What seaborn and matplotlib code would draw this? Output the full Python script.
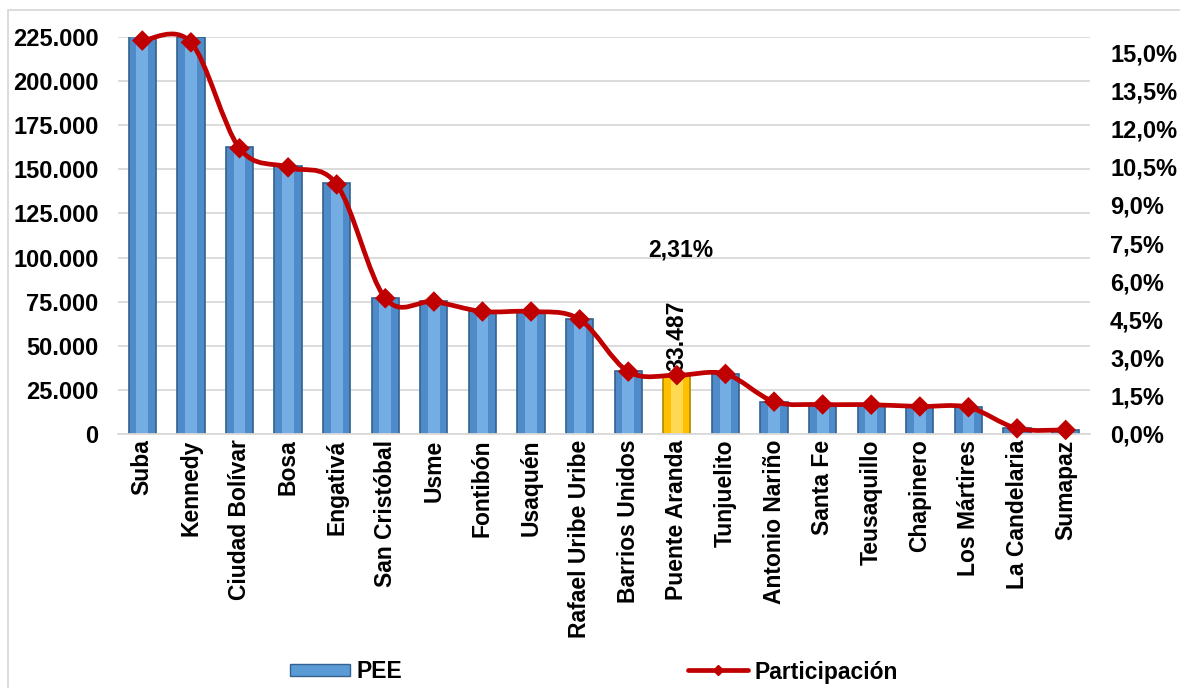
import numpy as np
import pandas as pd
import seaborn as sns
import matplotlib.pyplot as plt
from matplotlib.path import Path
from matplotlib.patches import PathPatch, Rectangle, Patch
from matplotlib.lines import Line2D
from matplotlib.ticker import FuncFormatter, MultipleLocator

# datos por localidad
localidades = ['Suba', 'Kennedy', 'Ciudad Bolívar', 'Bosa', 'Engativá', 'San Cristóbal',
               'Usme', 'Fontibón', 'Usaquén', 'Rafael Uribe Uribe', 'Barrios Unidos',
               'Puente Aranda', 'Tunjuelito', 'Antonio Nariño', 'Santa Fe', 'Teusaquillo',
               'Chapinero', 'Los Mártires', 'La Candelaria', 'Sumapaz']
pee = [225500, 225200, 162600, 151800, 142100, 77300, 75400, 69700, 69700, 65200,
       35500, 33487, 34200, 18400, 16800, 16700, 15700, 15200, 3200, 2300]
participacion = [15.45, 15.38, 11.22, 10.47, 9.80, 5.33, 5.20, 4.81, 4.81, 4.50,
                 2.45, 2.31, 2.36, 1.27, 1.16, 1.15, 1.08, 1.05, 0.22, 0.16]
destacada = 'Puente Aranda'

sns.set_theme(style='white')
plt.rcParams['font.family'] = ['Liberation Sans', 'DejaVu Sans']
plt.rcParams['font.weight'] = 'bold'
plt.rcParams['text.color'] = 'black'
plt.rcParams['xtick.color'] = 'black'
plt.rcParams['ytick.color'] = 'black'

fig = plt.figure(figsize=(11.8, 6.88), dpi=100)
ax = fig.add_axes([0.1, 0.3692, 0.8237, 0.577])

df = pd.DataFrame({'localidad': localidades, 'pee': pee})
base = ['#FFC000' if l == destacada else '#4F8BC9' for l in localidades]
brillo = ['#FFE066' if l == destacada else '#7DB6EA' for l in localidades]
bordes = ['#B38600' if l == destacada else '#35618F' for l in localidades]

sns.barplot(data=df, x='localidad', y='pee', hue='localidad', palette=base,
            legend=False, width=0.56, saturation=1, ax=ax, zorder=2)
for p, c in zip(ax.patches, bordes):
    p.set_edgecolor(c)
    p.set_linewidth(1.2)
n0 = len(ax.patches)
sns.barplot(data=df, x='localidad', y='pee', hue='localidad', palette=brillo,
            legend=False, width=0.24, saturation=1, ax=ax, zorder=2)
for p in ax.patches[n0:]:
    p.set_alpha(0.8)
    p.set_linewidth(0)

ax.set_xlim(-0.5, len(localidades) - 0.5)
ax.set_ylim(0, 225000)
ax.yaxis.set_major_locator(MultipleLocator(25000))
ax.yaxis.set_major_formatter(FuncFormatter(lambda v, _: f'{int(v):,}'.replace(',', '.')))
ax.grid(axis='y', color='#D9D9D9', lw=1.3)
ax.set_axisbelow(True)
for s in ['left', 'right', 'top']:
    ax.spines[s].set_visible(False)
ax.spines['bottom'].set_color('#D9D9D9')
ax.spines['bottom'].set_linewidth(1.3)
ax.set_xlabel('')
ax.set_ylabel('')
ax.tick_params(axis='x', length=0, pad=4, labelsize=16.5, rotation=90)
ax.tick_params(axis='y', length=0, pad=14, labelsize=17)

ax.annotate('33.487', xy=(localidades.index(destacada), 33487), xytext=(0, 3),
            textcoords='offset points', rotation=90, ha='center', va='bottom',
            fontsize=16.5, fontweight='bold')

# eje secundario: participacion
ax2 = ax.twinx()
ax2.set_ylim(0, 15 * 397 / 382)
ax2.set_yticks(np.arange(0, 15.01, 1.5))
ax2.yaxis.set_major_formatter(FuncFormatter(lambda v, _: f'{v:.1f}%'.replace('.', ',')))
ax2.tick_params(axis='y', length=0, pad=14.5, labelsize=17)
for s in ax2.spines.values():
    s.set_visible(False)
ax2.grid(False)

# linea suavizada (estilo Excel)
pts = np.column_stack([np.arange(len(participacion)), participacion]).astype(float)
n = len(pts)
verts = [pts[0]]
codes = [Path.MOVETO]
for i in range(n - 1):
    p0 = pts[max(i - 1, 0)]
    p1 = pts[i]
    p2 = pts[i + 1]
    p3 = pts[min(i + 2, n - 1)]
    verts += [p1 + (p2 - p0) / 6, p2 - (p3 - p1) / 6, p2]
    codes += [Path.CURVE4] * 3
ax2.add_patch(PathPatch(Path(verts, codes), fill=False, edgecolor='#C00000', lw=3.4,
                        capstyle='round', joinstyle='round', zorder=3, clip_on=False))
sns.scatterplot(x=pts[:, 0], y=pts[:, 1], marker='D', s=110, color='#C00000',
                edgecolor='none', ax=ax2, zorder=4, clip_on=False)

ax2.annotate('2,31%', xy=(localidades.index(destacada), participacion[11]),
             xytext=(3, 90), textcoords='offset points', ha='center', va='center',
             fontsize=16.5, fontweight='bold')

y_leg = 1 - 672 / 688
fig.legend([Patch(facecolor='#5B9BD5', edgecolor='#35618F')], ['PEE'],
           loc='center left', bbox_to_anchor=(279 / 1180, y_leg), frameon=False,
           borderpad=0, handlelength=2.6, handleheight=0.45, handletextpad=0.3,
           fontsize=16.5)
fig.legend([Line2D([], [], color='#C00000', lw=3.4, marker='D', ms=5)], ['Participación'],
           loc='center left', bbox_to_anchor=(677 / 1180, y_leg), frameon=False,
           borderpad=0, handlelength=2.6, handletextpad=0.3, fontsize=16.5)

fig.add_artist(Rectangle((8 / 1180, -0.05), 1.1, 1 - 10 / 688 + 0.05,
                         transform=fig.transFigure, fill=False,
                         edgecolor='#D9D9D9', lw=1.3))

fig.savefig('out.png', dpi=100)
